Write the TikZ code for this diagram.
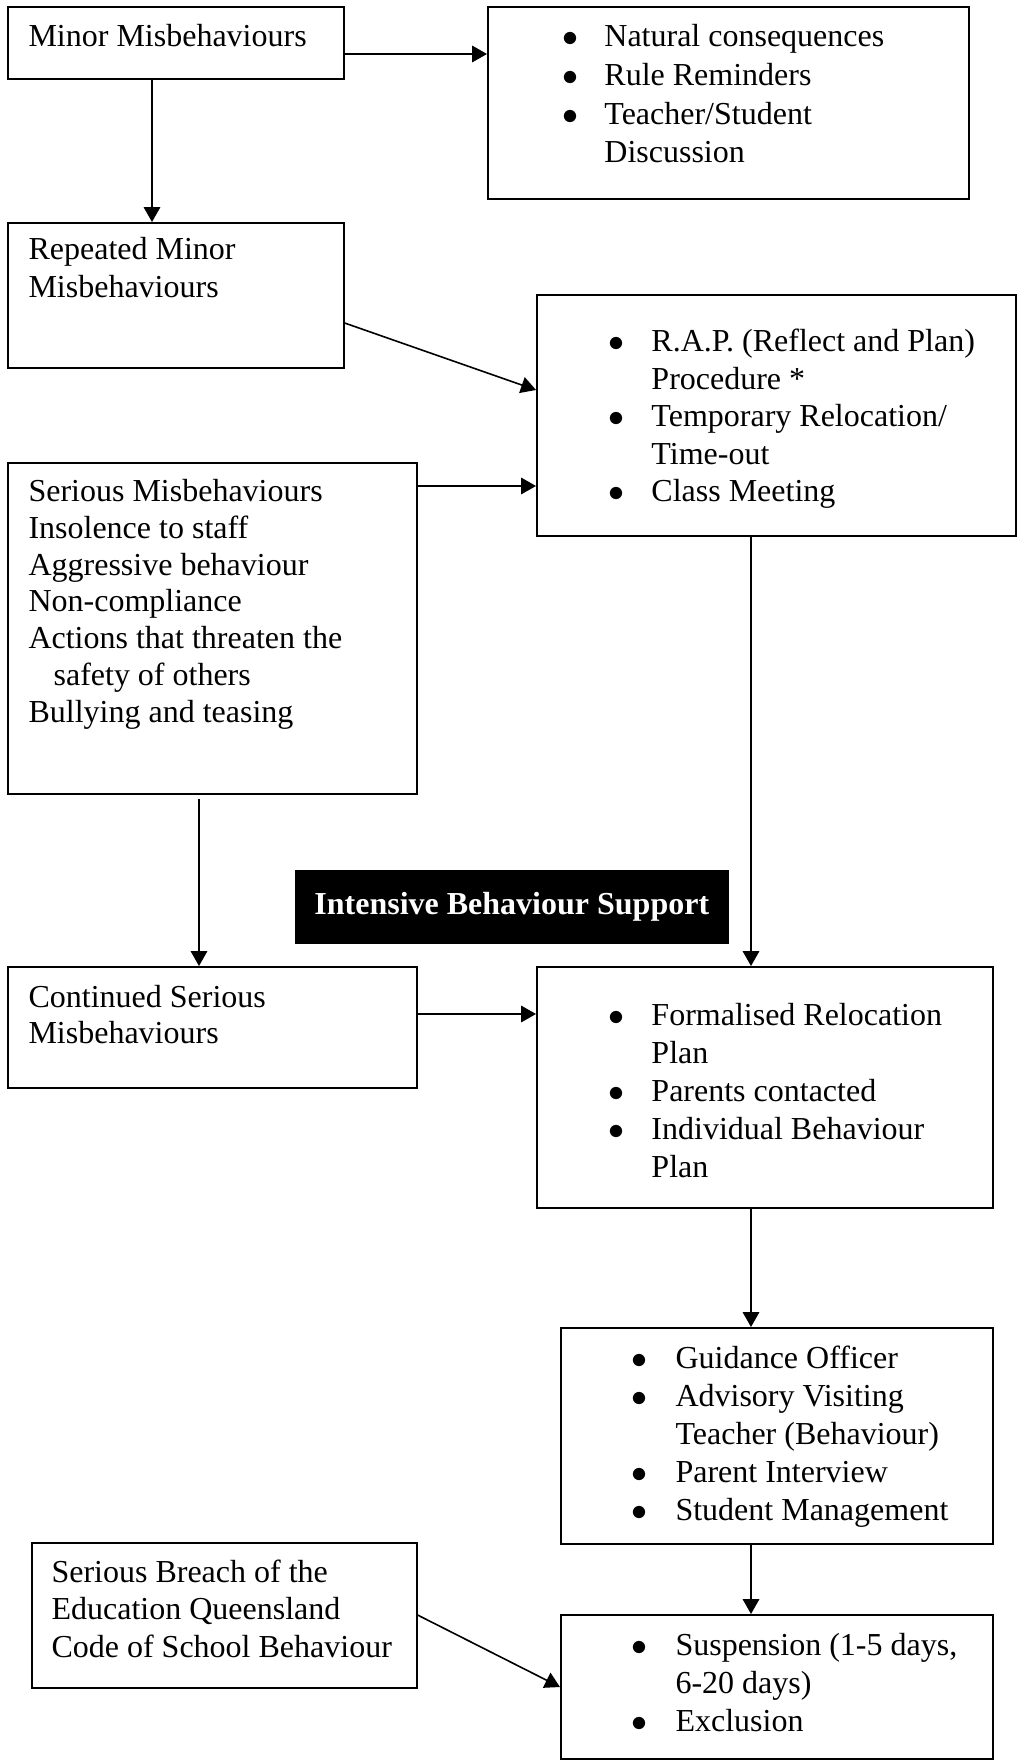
\documentclass[tikz,border=0pt]{standalone}
\usepackage{fontspec}
\setmainfont{Liberation Serif}
\usetikzlibrary{arrows.meta}
\newcommand\mybul[1]{\makebox[#1][l]{$\bullet$}}
\begin{document}
\begin{tikzpicture}[x=0.375pt,y=-0.375pt,
  box/.style n args={2}{draw, line width=0.6pt, rectangle, anchor=north west, inner sep=0pt,
    minimum width=#1*0.375pt, minimum height=#2*0.375pt},
  txt/.style={anchor=base west, inner sep=0pt, font=\fontsize{12pt}{#1pt}\selectfont},
  arr/.style={line width=0.6pt, -{Triangle[length=5.6pt,width=6.2pt]}}]
\useasboundingbox (0,0) rectangle (1018,1760);

% boxes
\node[box={336}{72}]  (m1)    at (7,6) {};
\node[box={481}{192}] (nat)   at (487,6) {};
\node[box={336}{145}] (rep)   at (7,222) {};
\node[box={479}{241}] (rap)   at (536,294) {};
\node[box={409}{331}] (ser)   at (7,462) {};
\node[box={409}{121}] (cont)  at (7,966) {};
\node[box={456}{241}] (form)  at (536,966) {};
\node[box={432}{216}] (guid)  at (560,1327) {};
\node[box={385}{145}] (brch)  at (31,1542) {};
\node[box={432}{144}] (susp)  at (560,1614) {};
\node[box={432}{72}, fill=black, text=white, font=\fontsize{12pt}{14pt}\selectfont\bfseries] (ibs) at (295,870) {Intensive Behaviour Support};

% texts
\node[txt=14] (m1T) at (28,47) {Minor Misbehaviours};
\node[txt=14.5] (natT) at (562,47) {\begin{tabular}[t]{@{}l@{}}\mybul{15.7pt}Natural consequences\\ \mybul{15.7pt}Rule Reminders\\ \mybul{15.7pt}Teacher/Student\\ \hspace*{15.7pt}Discussion\end{tabular}};
\node[txt=14.25] (repT) at (28,260) {\begin{tabular}[t]{@{}l@{}}Repeated Minor\\ Misbehaviours\end{tabular}};
\node[txt=14.06] (rapT) at (608,352) {\begin{tabular}[t]{@{}l@{}}\mybul{16.1pt}R.A.P. (Reflect and Plan)\\ \hspace*{16.1pt}Procedure *\\ \mybul{16.1pt}Temporary Relocation/\\ \hspace*{16.1pt}Time-out\\ \mybul{16.1pt}Class Meeting\end{tabular}};
\node[txt=13.75] (serT) at (28,502) {\begin{tabular}[t]{@{}l@{}}Serious Misbehaviours\\ Insolence to staff\\ Aggressive behaviour\\ Non-compliance\\ Actions that threaten the\\ \hspace*{9.4pt}safety of others\\ Bullying and teasing\end{tabular}};
\node[txt=13.5] (contT) at (28,1007) {\begin{tabular}[t]{@{}l@{}}Continued Serious\\ Misbehaviours\end{tabular}};
\node[txt=14.25] (formT) at (608,1025) {\begin{tabular}[t]{@{}l@{}}\mybul{16.1pt}Formalised Relocation\\ \hspace*{16.1pt}Plan\\ \mybul{16.1pt}Parents contacted\\ \mybul{16.1pt}Individual Behaviour\\ \hspace*{16.1pt}Plan\end{tabular}};
\node[txt=14.25] (guidT) at (631,1368) {\begin{tabular}[t]{@{}l@{}}\mybul{16.5pt}Guidance Officer\\ \mybul{16.5pt}Advisory Visiting\\ \hspace*{16.5pt}Teacher (Behaviour)\\ \mybul{16.5pt}Parent Interview\\ \mybul{16.5pt}Student Management\end{tabular}};
\node[txt=14.06] (brchT) at (51,1582) {\begin{tabular}[t]{@{}l@{}}Serious Breach of the\\ Education Queensland\\ Code of School Behaviour\end{tabular}};
\node[txt=14.4] (suspT) at (631,1655) {\begin{tabular}[t]{@{}l@{}}\mybul{16.5pt}Suspension (1-5 days,\\ \hspace*{16.5pt}6-20 days)\\ \mybul{16.5pt}Exclusion\end{tabular}};

% connectors
\draw[arr] (m1.east |- 0,54) -- (nat.west |- 0,54);
\draw[arr] (m1.south -| 152,0) -- (rep.north -| 152,0);
\draw[arr] (rep.east |- 0,323) -- (rap.west |- 0,390);
\draw[arr] (ser.east |- 0,486) -- (rap.west |- 0,486);
\draw[arr] (rap.south -| 751,0) -- (form.north -| 751,0);
\draw[arr] (ser.south -| 199,0) ++(0,4) -- (cont.north -| 199,0);
\draw[arr] (cont.east |- 0,1014) -- (form.west |- 0,1014);
\draw[arr] (form.south -| 751,0) -- (guid.north -| 751,0);
\draw[arr] (guid.south -| 751,0) -- (susp.north -| 751,0);
\draw[arr] (brch.east |- 0,1615) -- (susp.west |- 0,1687);
\end{tikzpicture}
\end{document}
